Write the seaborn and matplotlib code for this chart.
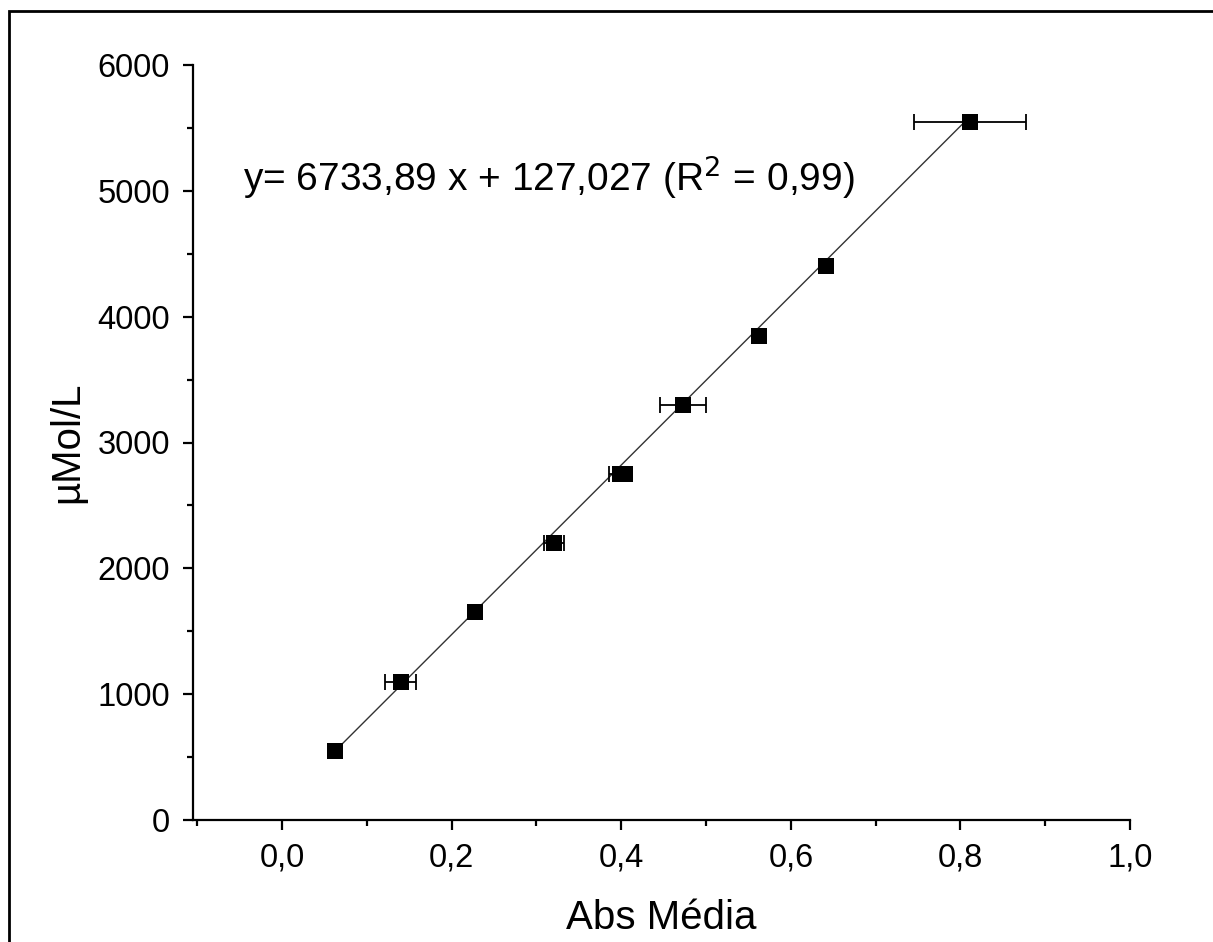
import numpy as np
import pandas as pd
import matplotlib
matplotlib.use("Agg")
import matplotlib.pyplot as plt
from matplotlib.ticker import MultipleLocator, FuncFormatter
from matplotlib.patches import Rectangle
import seaborn as sns

# ---- data ----
abs_media = [0.063, 0.140, 0.227, 0.321, 0.399, 0.405, 0.473, 0.563, 0.641, 0.811]
umol_l = [550, 1100, 1650, 2200, 2750, 2750, 3300, 3850, 4400, 5550]
abs_err = [0.0, 0.018, 0.0, 0.012, 0.013, 0.0, 0.027, 0.0, 0.0, 0.066]
slope = 6733.89
intercept = 127.027
r2_text = "0,99"

df = pd.DataFrame({"x": abs_media, "y": umol_l, "xerr": abs_err})
err_df = df[df["xerr"] > 0]
xfit = np.array([min(abs_media), max(abs_media)])
fit_df = pd.DataFrame({"x": xfit, "y": slope * xfit + intercept})

sns.set_theme(style="ticks")
plt.rcParams["font.family"] = ["Liberation Sans", "DejaVu Sans"]

fig = plt.figure(figsize=(12.13, 9.42), dpi=100)
ax = fig.add_axes([193/1213, 1-820/942, (1130-193)/1213, (820-65)/942])

sns.lineplot(data=fit_df, x="x", y="y", ax=ax, color="#333333", linewidth=1.0)
ax.errorbar(err_df["x"], err_df["y"], xerr=err_df["xerr"], fmt="none", ecolor="black",
            elinewidth=1.3, capsize=5.5, capthick=1.3, zorder=3)
sns.scatterplot(data=df, x="x", y="y", ax=ax, marker="s", s=135, color="black",
                edgecolor="black", linewidth=0, zorder=4)

ax.set_xlim(-0.105, 1.0)
ax.set_ylim(0, 6000)
ax.xaxis.set_major_locator(MultipleLocator(0.2))
ax.xaxis.set_minor_locator(MultipleLocator(0.1))
ax.yaxis.set_major_locator(MultipleLocator(1000))
ax.yaxis.set_minor_locator(MultipleLocator(500))
ax.xaxis.set_major_formatter(FuncFormatter(lambda v, p: f"{v:.1f}".replace(".", ",").replace("-0,0", "0,0")))
ax.yaxis.set_major_formatter(FuncFormatter(lambda v, p: f"{int(round(v))}"))

for s in ["top", "right"]:
    ax.spines[s].set_visible(False)
for s in ["left", "bottom"]:
    ax.spines[s].set_linewidth(1.6)
    ax.spines[s].set_color("black")
ax.tick_params(which="major", direction="out", length=7.5, width=1.6, labelsize=23.5,
               colors="black", pad=9)
ax.tick_params(which="minor", direction="out", length=4, width=1.6, colors="black")

ax.set_xlabel("Abs Média", fontsize=29, color="black", labelpad=18)
ax.set_ylabel("µMol/L", fontsize=29, color="black", labelpad=8)

eq = f"y= {slope:.2f} x + {intercept:.3f}".replace(".", ",") + f" (R$^2$ = {r2_text})"
ax.text(-0.046, 5000, eq, fontsize=28, color="black", ha="left", va="baseline",
        transform=ax.transData)

# figure border
fig.patches.append(Rectangle((9/1213, -0.05), 1.2, 1 - 11/942 + 0.05,
                             transform=fig.transFigure, fill=False,
                             edgecolor="black", linewidth=2.0))

fig.savefig("out.png", dpi=100)
